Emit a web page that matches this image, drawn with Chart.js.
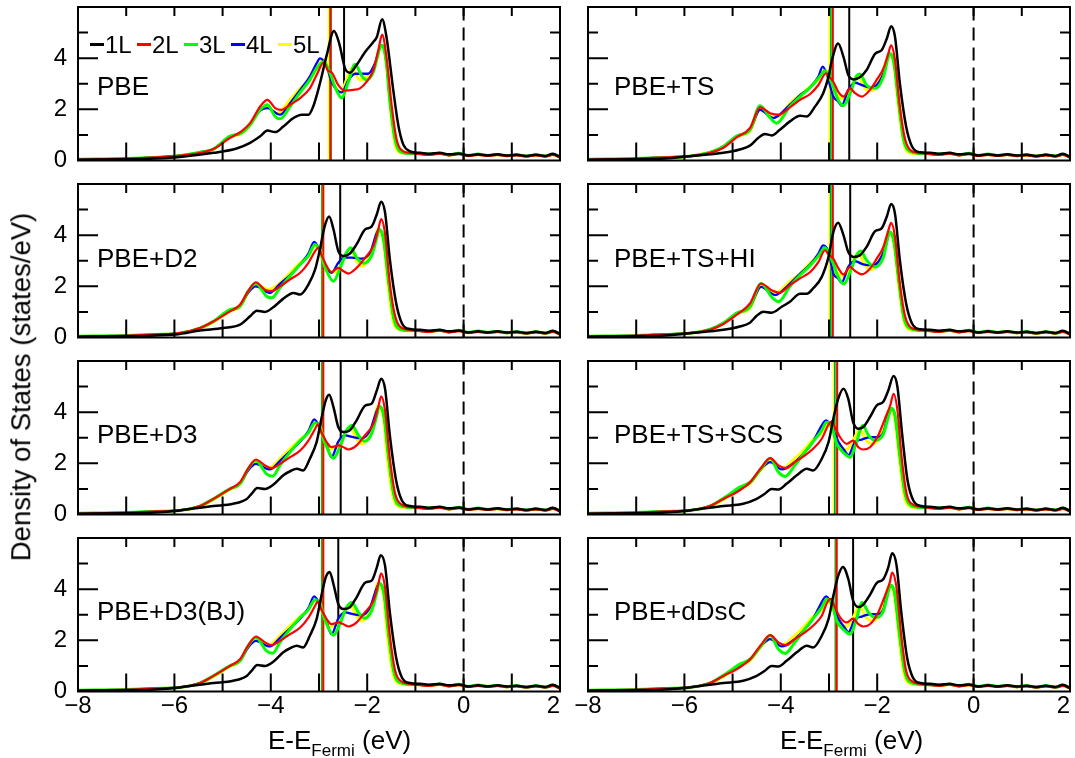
<!DOCTYPE html>
<html>
<head>
<meta charset="utf-8">
<script src="https://cdn.jsdelivr.net/npm/chart.js@4.4.0/dist/chart.umd.min.js"></script>
<style>
  html, body { margin: 0; padding: 0; background: #fff; }
  body { width: 1075px; height: 758px; position: relative; overflow: hidden;
         font-family: "Liberation Sans", Arial, Helvetica, sans-serif; color: #000; }
  canvas { position: absolute; left: 0; top: 0; }
  .txt { position: absolute; white-space: nowrap; line-height: 1; }
  .panel-name { font-size: 26px; }
  .legend-dash { position: absolute; width: 14px; height: 3px; }
  .legend-text { font-size: 24px; }
  .axis-title { font-size: 26px; }
  .y-title { font-size: 27.5px; }
</style>
</head>
<body>
<script>
// ---- series definitions -------------------------------------------------
const LAYERS = ['1L', '2L', '3L', '4L', '5L'];
const LAYER_COLORS = ['#000000', '#ff0000', '#00ff00', '#0000ff', '#ffff00'];
const METHODS = ['PBE', 'PBE+TS', 'PBE+D2', 'PBE+TS+HI', 'PBE+D3', 'PBE+TS+SCS', 'PBE+D3(BJ)', 'PBE+dDsC'];
const X_LABEL_TICKS = [-8, -6, -4, -2, 0, 2];
const Y_LABEL_TICKS = [0, 2, 4];

// low-energy tails (E, DOS), shared by every functional
const HEAD_1L = [[-8, 0.03], [-7, 0.05], [-6.4, 0.08]];
const HEAD_2L = [[-8, 0.04], [-7, 0.07], [-6.4, 0.12]];
const HEAD_3L = [[-8, 0.05], [-7, 0.08], [-6.4, 0.12]];
const HEAD_4L = [[-8, 0.04], [-7, 0.07], [-6.4, 0.12]];
const HEAD_5L = [[-8, 0.04], [-7, 0.06], [-6.4, 0.11]];

// conduction-side tails above -1 eV
const TAIL_1L = [[-0.9, 0.3], [-0.7, 0.26], [-0.5, 0.3], [-0.3, 0.24], [-0.1, 0.27], [0.1, 0.2], [0.3, 0.24], [0.5, 0.2], [0.7, 0.24], [0.9, 0.2], [1.1, 0.22], [1.3, 0.18], [1.5, 0.22], [1.7, 0.18], [1.85, 0.26], [2, 0.14]];
const TAIL_2L = [[-0.9, 0.25], [-0.7, 0.22], [-0.5, 0.27], [-0.3, 0.2], [-0.1, 0.25], [0.1, 0.18], [0.3, 0.22], [0.5, 0.18], [0.7, 0.22], [0.9, 0.17], [1.1, 0.2], [1.3, 0.16], [1.5, 0.2], [1.7, 0.16], [1.85, 0.22], [2, 0.12]];
const TAIL_3L = [[-0.9, 0.27], [-0.7, 0.25], [-0.5, 0.28], [-0.3, 0.22], [-0.1, 0.28], [0.1, 0.2], [0.3, 0.25], [0.5, 0.2], [0.7, 0.23], [0.9, 0.19], [1.1, 0.22], [1.3, 0.17], [1.5, 0.22], [1.7, 0.17], [1.85, 0.24], [2, 0.13]];
const TAIL_4L = [[-0.9, 0.26], [-0.7, 0.24], [-0.5, 0.29], [-0.3, 0.21], [-0.1, 0.27], [0.1, 0.19], [0.3, 0.25], [0.5, 0.19], [0.7, 0.24], [0.9, 0.18], [1.1, 0.23], [1.3, 0.16], [1.5, 0.23], [1.7, 0.16], [1.85, 0.24], [2, 0.13]];
const TAIL_5L = [[-0.9, 0.26], [-0.7, 0.23], [-0.5, 0.27], [-0.3, 0.21], [-0.1, 0.26], [0.1, 0.19], [0.3, 0.23], [0.5, 0.2], [0.7, 0.22], [0.9, 0.18], [1.1, 0.21], [1.3, 0.17], [1.5, 0.21], [1.7, 0.17], [1.85, 0.23], [2, 0.12]];

// ---- PBE ----
const PBE_1L = [[-5.89,0.14],[-5.19,0.3],[-4.71,0.47],[-4.43,0.69],[-4.22,0.95],[-4.07,1.17],[-3.91,1.11],[-3.74,1.33],[-3.53,1.66],[-3.36,1.79],[-3.22,1.79],[-3.12,2.11],[-2.98,3.02],[-2.84,4.12],[-2.69,5.06],[-2.58,4.57],[-2.46,3.6],[-2.36,3.43],[-2.22,3.73],[-2.04,4.25],[-1.87,4.64],[-1.8,4.83],[-1.69,5.52],[-1.6,4.83],[-1.46,2.76],[-1.35,1.33],[-1.25,0.62],[-1.11,0.36]];
const PBE_2L = [[-5.89,0.19],[-5.47,0.3],[-5.19,0.45],[-4.85,0.88],[-4.61,1.14],[-4.43,1.46],[-4.22,2.11],[-4.07,2.37],[-3.91,2.05],[-3.78,1.98],[-3.6,2.18],[-3.39,2.44],[-3.19,2.82],[-3.05,3.34],[-2.9,3.83],[-2.81,3.5],[-2.74,3.45],[-2.6,2.95],[-2.46,2.73],[-2.29,2.76],[-2.15,2.82],[-2.01,3.08],[-1.87,3.54],[-1.77,4.31],[-1.69,4.92],[-1.6,4.05],[-1.49,2.11],[-1.39,0.82],[-1.25,0.36],[-1.11,0.3]];
const PBE_3L = [[-5.89,0.19],[-5.47,0.32],[-5.19,0.45],[-4.85,0.95],[-4.61,1.08],[-4.43,1.4],[-4.22,1.98],[-4.07,2.18],[-3.91,1.72],[-3.81,1.63],[-3.6,2.11],[-3.39,2.66],[-3.19,3.15],[-3.05,3.6],[-2.9,3.86],[-2.77,3.41],[-2.67,2.89],[-2.53,2.44],[-2.39,3.08],[-2.25,3.76],[-2.11,3.3],[-2.01,3.15],[-1.87,3.47],[-1.73,4.44],[-1.69,4.5],[-1.6,3.8],[-1.53,2.37],[-1.42,0.82],[-1.28,0.32],[-1.11,0.28]];
const PBE_4L = [[-5.89,0.19],[-5.47,0.32],[-5.19,0.45],[-4.85,0.92],[-4.61,1.08],[-4.43,1.42],[-4.22,1.95],[-4.07,2.05],[-3.81,1.79],[-3.6,2.24],[-3.39,2.76],[-3.19,3.28],[-3.05,3.8],[-2.98,3.99],[-2.84,3.67],[-2.74,3.08],[-2.63,2.76],[-2.53,2.66],[-2.39,3.15],[-2.25,3.39],[-2.11,3.39],[-1.98,3.39],[-1.84,3.8],[-1.73,4.44],[-1.69,4.5],[-1.6,3.8],[-1.53,2.37],[-1.42,0.82],[-1.28,0.32],[-1.11,0.28]];
const PBE_5L = [[-5.89,0.19],[-5.47,0.3],[-5.19,0.43],[-4.85,0.92],[-4.61,1.05],[-4.43,1.38],[-4.22,2.0],[-4.07,2.11],[-3.88,1.83],[-3.6,2.37],[-3.39,2.82],[-3.19,3.15],[-3.05,3.6],[-2.9,3.95],[-2.77,3.28],[-2.67,2.89],[-2.56,2.63],[-2.43,3.15],[-2.32,3.6],[-2.15,3.15],[-2.01,3.28],[-1.84,3.73],[-1.73,4.44],[-1.69,4.5],[-1.6,3.67],[-1.53,2.2],[-1.43,0.7],[-1.3,0.3],[-1.11,0.26]];

// ---- PBE+TS ----
const TS_1L = [[-5.89,0.17],[-5.19,0.3],[-4.85,0.43],[-4.64,0.58],[-4.47,0.88],[-4.33,1.04],[-4.19,0.98],[-4.02,1.2],[-3.81,1.53],[-3.6,1.75],[-3.46,1.72],[-3.29,2.11],[-3.12,2.63],[-3.01,3.28],[-2.94,3.92],[-2.81,4.57],[-2.7,4.05],[-2.6,3.34],[-2.49,3.17],[-2.36,3.25],[-2.22,3.54],[-2.04,4.18],[-1.91,4.31],[-1.8,4.77],[-1.71,5.25],[-1.63,4.83],[-1.53,3.02],[-1.4,1.33],[-1.28,0.56],[-1.11,0.32]];
const TS_2L = [[-5.89,0.17],[-5.47,0.3],[-5.19,0.5],[-4.92,0.9],[-4.64,1.27],[-4.43,2.08],[-4.22,1.85],[-4.05,1.79],[-3.81,2.08],[-3.6,2.37],[-3.39,2.6],[-3.22,2.95],[-3.06,3.41],[-3.01,3.3],[-2.91,3.08],[-2.81,2.69],[-2.7,2.5],[-2.56,2.82],[-2.46,2.63],[-2.32,2.5],[-2.15,2.76],[-2.01,3.15],[-1.87,3.6],[-1.77,4.18],[-1.71,4.5],[-1.63,3.92],[-1.53,2.11],[-1.42,0.82],[-1.28,0.36],[-1.11,0.3]];
const TS_3L = [[-5.89,0.17],[-5.47,0.32],[-5.19,0.55],[-4.92,0.95],[-4.64,1.2],[-4.43,2.14],[-4.22,1.66],[-4.09,1.46],[-3.81,2.11],[-3.6,2.5],[-3.39,2.86],[-3.22,3.21],[-3.08,3.51],[-3.01,3.28],[-2.91,2.89],[-2.81,2.37],[-2.7,2.14],[-2.56,2.63],[-2.43,3.3],[-2.36,3.38],[-2.22,2.95],[-2.04,2.82],[-1.87,3.28],[-1.77,4.05],[-1.73,4.18],[-1.65,3.8],[-1.56,2.37],[-1.45,0.82],[-1.32,0.36],[-1.11,0.28]];
const TS_4L = [[-5.89,0.17],[-5.47,0.32],[-5.19,0.55],[-4.92,0.95],[-4.64,1.2],[-4.43,1.98],[-4.16,1.66],[-3.81,2.18],[-3.6,2.56],[-3.39,2.86],[-3.22,3.28],[-3.13,3.67],[-3.04,3.34],[-2.91,2.5],[-2.81,2.31],[-2.74,2.14],[-2.6,2.76],[-2.46,3.04],[-2.32,2.95],[-2.15,2.86],[-2.01,2.95],[-1.87,3.41],[-1.77,4.05],[-1.73,4.16],[-1.65,3.8],[-1.56,2.37],[-1.45,0.82],[-1.32,0.36],[-1.11,0.28]];
const TS_5L = [[-5.89,0.17],[-5.47,0.32],[-5.19,0.53],[-4.92,0.92],[-4.64,1.15],[-4.43,1.98],[-4.19,1.75],[-4.05,1.72],[-3.81,2.24],[-3.6,2.56],[-3.39,2.89],[-3.22,3.18],[-3.08,3.54],[-3.01,3.34],[-2.91,2.56],[-2.81,2.53],[-2.7,2.4],[-2.56,2.82],[-2.39,3.25],[-2.25,2.82],[-2.11,2.73],[-1.98,3.02],[-1.87,3.54],[-1.77,4.12],[-1.73,4.18],[-1.65,3.67],[-1.56,2.11],[-1.45,0.69],[-1.32,0.3],[-1.11,0.26]];

// ---- PBE+D2 ----
const D2_1L = [[-5.89,0.14],[-5.47,0.27],[-4.99,0.37],[-4.64,0.5],[-4.43,0.83],[-4.29,1.05],[-4.12,1.0],[-3.95,1.18],[-3.74,1.52],[-3.53,1.74],[-3.39,1.68],[-3.22,2.07],[-3.08,2.66],[-2.98,3.45],[-2.88,4.36],[-2.79,4.73],[-2.7,4.23],[-2.6,3.38],[-2.49,3.19],[-2.36,3.28],[-2.22,3.64],[-2.04,4.23],[-1.91,4.33],[-1.8,4.82],[-1.71,5.31],[-1.63,4.89],[-1.53,3.05],[-1.4,1.35],[-1.28,0.56],[-1.11,0.33]];
const D2_2L = [[-5.89,0.17],[-5.47,0.37],[-5.19,0.63],[-4.85,1.02],[-4.64,1.28],[-4.47,1.81],[-4.31,2.16],[-4.12,1.87],[-3.98,1.81],[-3.81,2.0],[-3.6,2.27],[-3.39,2.53],[-3.22,2.92],[-3.08,3.38],[-3.01,3.51],[-2.95,3.25],[-2.84,2.79],[-2.74,2.56],[-2.6,2.72],[-2.49,2.59],[-2.39,2.5],[-2.22,2.72],[-2.04,3.12],[-1.87,3.59],[-1.77,4.23],[-1.71,4.63],[-1.63,4.06],[-1.53,2.1],[-1.42,0.83],[-1.28,0.37],[-1.11,0.3]];
const D2_3L = [[-5.89,0.17],[-5.47,0.37],[-5.19,0.63],[-4.85,1.09],[-4.64,1.22],[-4.47,1.81],[-4.31,2.12],[-4.09,1.61],[-3.98,1.55],[-3.81,1.94],[-3.6,2.4],[-3.39,2.86],[-3.22,3.19],[-3.08,3.64],[-2.98,3.38],[-2.84,2.59],[-2.7,2.2],[-2.56,2.72],[-2.43,3.32],[-2.34,3.51],[-2.22,3.12],[-2.08,2.9],[-1.91,3.19],[-1.8,3.9],[-1.75,4.23],[-1.66,3.84],[-1.56,2.27],[-1.45,0.77],[-1.32,0.33],[-1.11,0.28]];
const D2_4L = [[-5.89,0.17],[-5.47,0.37],[-5.19,0.63],[-4.85,1.05],[-4.64,1.22],[-4.47,1.75],[-4.31,2.0],[-4.02,1.74],[-3.81,2.1],[-3.6,2.44],[-3.39,2.86],[-3.22,3.28],[-3.1,3.74],[-2.98,3.38],[-2.84,2.72],[-2.74,2.53],[-2.6,2.92],[-2.49,3.12],[-2.32,3.12],[-2.11,3.08],[-1.94,3.32],[-1.8,4.1],[-1.75,4.23],[-1.66,3.84],[-1.56,2.27],[-1.45,0.77],[-1.32,0.33],[-1.11,0.28]];
const D2_5L = [[-5.89,0.17],[-5.47,0.35],[-5.19,0.6],[-4.85,1.02],[-4.64,1.2],[-4.47,1.75],[-4.31,2.07],[-4.05,1.87],[-3.81,2.13],[-3.6,2.53],[-3.39,2.92],[-3.22,3.21],[-3.08,3.58],[-2.98,3.42],[-2.88,2.8],[-2.77,2.53],[-2.63,2.59],[-2.49,3.05],[-2.36,3.47],[-2.22,2.99],[-2.11,2.79],[-1.98,3.05],[-1.87,3.58],[-1.78,4.23],[-1.66,3.71],[-1.57,2.1],[-1.47,0.7],[-1.32,0.3],[-1.11,0.26]];

// ---- PBE+TS+HI ----
const TSHI_1L = [[-5.89,0.17],[-5.19,0.3],[-4.85,0.43],[-4.64,0.58],[-4.5,0.85],[-4.36,1.01],[-4.19,0.97],[-3.98,1.2],[-3.81,1.4],[-3.6,1.71],[-3.46,1.71],[-3.33,1.92],[-3.15,2.37],[-3.01,3.15],[-2.91,4.12],[-2.81,4.49],[-2.7,4.0],[-2.6,3.34],[-2.49,3.15],[-2.36,3.21],[-2.22,3.54],[-2.04,4.16],[-1.91,4.26],[-1.8,4.73],[-1.71,5.22],[-1.63,4.83],[-1.53,3.02],[-1.4,1.33],[-1.28,0.56],[-1.11,0.32]];
const TSHI_2L = [[-5.89,0.17],[-5.47,0.3],[-5.19,0.53],[-4.92,0.88],[-4.64,1.33],[-4.41,2.11],[-4.19,1.85],[-4.02,1.75],[-3.81,2.05],[-3.6,2.31],[-3.39,2.56],[-3.22,2.95],[-3.08,3.41],[-3.01,3.25],[-2.91,3.08],[-2.81,2.72],[-2.7,2.47],[-2.56,2.76],[-2.46,2.6],[-2.32,2.47],[-2.15,2.69],[-2.01,3.08],[-1.87,3.54],[-1.77,4.18],[-1.71,4.48],[-1.63,3.92],[-1.53,2.11],[-1.42,0.82],[-1.28,0.36],[-1.11,0.3]];
const TSHI_3L = [[-5.89,0.17],[-5.47,0.32],[-5.19,0.57],[-4.92,0.95],[-4.64,1.2],[-4.41,2.11],[-4.19,1.59],[-4.05,1.4],[-3.81,2.0],[-3.6,2.44],[-3.39,2.82],[-3.22,3.18],[-3.08,3.51],[-3.01,3.28],[-2.91,2.89],[-2.81,2.37],[-2.69,2.09],[-2.56,2.57],[-2.43,3.21],[-2.34,3.38],[-2.22,3.02],[-2.05,2.76],[-1.87,3.15],[-1.77,4.0],[-1.73,4.12],[-1.65,3.73],[-1.56,2.37],[-1.45,0.82],[-1.32,0.36],[-1.11,0.28]];
const TSHI_4L = [[-5.89,0.17],[-5.47,0.32],[-5.19,0.57],[-4.92,0.95],[-4.64,1.2],[-4.41,1.98],[-4.12,1.66],[-3.81,2.11],[-3.6,2.5],[-3.39,2.86],[-3.22,3.28],[-3.12,3.6],[-3.01,3.34],[-2.91,2.5],[-2.81,2.31],[-2.74,2.14],[-2.6,2.76],[-2.46,2.98],[-2.29,2.86],[-2.11,2.82],[-1.98,2.95],[-1.84,3.47],[-1.73,4.12],[-1.65,3.73],[-1.56,2.37],[-1.45,0.82],[-1.32,0.36],[-1.11,0.28]];
const TSHI_5L = [[-5.89,0.17],[-5.47,0.32],[-5.19,0.55],[-4.92,0.92],[-4.64,1.15],[-4.41,1.98],[-4.12,1.72],[-3.81,2.2],[-3.6,2.5],[-3.39,2.92],[-3.22,3.21],[-3.08,3.51],[-3.01,3.34],[-2.91,2.56],[-2.81,2.5],[-2.7,2.4],[-2.56,2.78],[-2.39,3.28],[-2.25,2.82],[-2.11,2.66],[-1.98,2.98],[-1.87,3.52],[-1.75,4.08],[-1.65,3.6],[-1.56,2.11],[-1.45,0.69],[-1.32,0.3],[-1.11,0.26]];

// ---- PBE+D3 ----
const D3_1L = [[-5.89,0.16],[-5.19,0.33],[-4.78,0.42],[-4.5,0.61],[-4.4,0.81],[-4.28,1.04],[-4.12,1.0],[-3.95,1.16],[-3.74,1.53],[-3.57,1.72],[-3.46,1.79],[-3.33,1.72],[-3.19,2.18],[-3.05,2.83],[-2.95,3.74],[-2.86,4.46],[-2.79,4.68],[-2.7,4.2],[-2.6,3.42],[-2.49,3.22],[-2.36,3.29],[-2.22,3.68],[-2.04,4.26],[-1.91,4.33],[-1.8,4.85],[-1.71,5.31],[-1.63,4.92],[-1.53,3.09],[-1.4,1.33],[-1.28,0.55],[-1.11,0.33]];
const D3_2L = [[-5.89,0.16],[-5.47,0.33],[-5.19,0.61],[-4.85,1.0],[-4.64,1.26],[-4.47,1.79],[-4.31,2.15],[-4.12,1.92],[-3.98,1.81],[-3.81,1.98],[-3.6,2.24],[-3.39,2.5],[-3.22,2.89],[-3.08,3.35],[-3.03,3.51],[-2.95,3.21],[-2.84,2.83],[-2.74,2.63],[-2.6,2.7],[-2.49,2.63],[-2.39,2.54],[-2.22,2.7],[-2.05,3.09],[-1.87,3.55],[-1.77,4.2],[-1.71,4.62],[-1.63,4.07],[-1.53,2.18],[-1.42,0.81],[-1.28,0.38],[-1.11,0.3]];
const D3_3L = [[-5.89,0.16],[-5.47,0.33],[-5.19,0.61],[-4.85,1.0],[-4.64,1.2],[-4.47,1.79],[-4.31,2.11],[-4.09,1.59],[-3.96,1.5],[-3.81,1.92],[-3.6,2.44],[-3.39,2.89],[-3.22,3.2],[-3.08,3.59],[-2.98,3.38],[-2.84,2.63],[-2.7,2.2],[-2.56,2.67],[-2.43,3.28],[-2.32,3.48],[-2.18,3.09],[-2.05,2.86],[-1.91,3.15],[-1.8,3.87],[-1.75,4.24],[-1.65,3.81],[-1.56,2.31],[-1.45,0.81],[-1.32,0.35],[-1.11,0.28]];
const D3_4L = [[-5.89,0.16],[-5.47,0.33],[-5.19,0.61],[-4.85,1.0],[-4.64,1.2],[-4.47,1.72],[-4.31,1.98],[-4.02,1.76],[-3.81,2.1],[-3.6,2.47],[-3.39,2.85],[-3.22,3.26],[-3.1,3.72],[-2.98,3.38],[-2.84,2.7],[-2.74,2.24],[-2.6,2.85],[-2.46,3.09],[-2.29,3.02],[-2.11,2.98],[-1.94,3.29],[-1.8,4.07],[-1.75,4.24],[-1.65,3.81],[-1.56,2.31],[-1.45,0.81],[-1.32,0.35],[-1.11,0.28]];
const D3_5L = [[-5.89,0.16],[-5.47,0.32],[-5.19,0.58],[-4.85,0.98],[-4.64,1.18],[-4.47,1.75],[-4.31,2.05],[-4.05,1.81],[-3.81,2.18],[-3.6,2.57],[-3.39,2.93],[-3.22,3.2],[-3.08,3.59],[-2.98,3.42],[-2.88,2.83],[-2.77,2.57],[-2.63,2.63],[-2.5,3.03],[-2.36,3.38],[-2.22,2.96],[-2.11,2.76],[-1.98,3.03],[-1.87,3.59],[-1.78,4.24],[-1.66,3.74],[-1.58,2.18],[-1.47,0.74],[-1.32,0.3],[-1.11,0.26]];

// ---- PBE+TS+SCS ----
const SCS_1L = [[-5.89,0.16],[-5.19,0.33],[-4.78,0.42],[-4.5,0.61],[-4.33,0.81],[-4.19,1.0],[-4.05,0.98],[-3.88,1.2],[-3.67,1.53],[-3.46,1.79],[-3.33,1.72],[-3.15,2.18],[-3.01,2.83],[-2.91,3.74],[-2.81,4.52],[-2.7,4.92],[-2.6,4.52],[-2.5,3.61],[-2.39,3.35],[-2.29,3.42],[-2.15,3.81],[-2.01,4.26],[-1.87,4.42],[-1.77,4.85],[-1.66,5.41],[-1.58,4.98],[-1.48,3.09],[-1.37,1.33],[-1.25,0.55],[-1.08,0.33]];
const SCS_2L = [[-5.89,0.16],[-5.47,0.33],[-5.19,0.61],[-4.85,0.94],[-4.64,1.26],[-4.4,1.85],[-4.22,2.2],[-4.05,1.92],[-3.89,1.81],[-3.71,2.05],[-3.5,2.31],[-3.33,2.57],[-3.15,2.96],[-3.01,3.51],[-2.94,3.64],[-2.88,3.42],[-2.77,3.02],[-2.63,2.76],[-2.5,2.89],[-2.39,2.63],[-2.29,2.54],[-2.15,2.63],[-1.98,3.09],[-1.84,3.74],[-1.73,4.26],[-1.66,4.72],[-1.58,4.07],[-1.49,2.18],[-1.39,0.81],[-1.25,0.38],[-1.08,0.3]];
const SCS_3L = [[-5.89,0.16],[-5.47,0.33],[-5.19,0.63],[-4.85,1.07],[-4.64,1.26],[-4.4,1.81],[-4.22,2.2],[-4.05,1.66],[-3.91,1.49],[-3.71,1.92],[-3.5,2.44],[-3.33,2.85],[-3.15,3.29],[-3.05,3.61],[-2.94,3.42],[-2.84,2.76],[-2.67,2.37],[-2.56,2.24],[-2.43,2.83],[-2.3,3.49],[-2.18,3.09],[-2.05,2.89],[-1.87,3.15],[-1.77,3.81],[-1.7,4.15],[-1.63,3.87],[-1.53,2.31],[-1.42,0.81],[-1.3,0.35],[-1.08,0.28]];
const SCS_4L = [[-5.89,0.16],[-5.47,0.33],[-5.19,0.61],[-4.85,1.03],[-4.64,1.24],[-4.4,1.8],[-4.22,2.05],[-3.98,1.76],[-3.71,2.05],[-3.5,2.44],[-3.33,2.85],[-3.19,3.35],[-3.06,3.68],[-2.94,3.42],[-2.8,2.83],[-2.66,2.46],[-2.6,2.31],[-2.46,2.83],[-2.32,2.93],[-2.15,3.02],[-2.01,3.02],[-1.87,3.22],[-1.77,3.94],[-1.7,4.12],[-1.63,3.87],[-1.53,2.31],[-1.42,0.81],[-1.3,0.35],[-1.08,0.28]];
const SCS_5L = [[-5.89,0.16],[-5.47,0.32],[-5.19,0.58],[-4.85,1.0],[-4.64,1.2],[-4.4,1.78],[-4.22,2.05],[-3.98,1.81],[-3.71,2.18],[-3.5,2.57],[-3.33,2.93],[-3.15,3.2],[-3.05,3.49],[-2.94,3.38],[-2.84,2.87],[-2.74,2.63],[-2.63,2.54],[-2.5,2.89],[-2.36,3.32],[-2.22,2.88],[-2.11,2.76],[-1.94,3.03],[-1.84,3.61],[-1.73,4.18],[-1.63,3.68],[-1.54,2.18],[-1.44,0.74],[-1.3,0.3],[-1.08,0.26]];

// ---- PBE+D3(BJ) ----
const D3BJ_1L = [[-5.89,0.16],[-5.19,0.33],[-4.78,0.42],[-4.5,0.61],[-4.4,0.81],[-4.28,1.04],[-4.12,1.0],[-3.95,1.16],[-3.74,1.53],[-3.57,1.72],[-3.46,1.79],[-3.33,1.72],[-3.19,2.18],[-3.05,2.83],[-2.95,3.74],[-2.86,4.46],[-2.78,4.67],[-2.7,4.2],[-2.6,3.42],[-2.49,3.22],[-2.36,3.29],[-2.22,3.68],[-2.04,4.26],[-1.91,4.33],[-1.8,4.85],[-1.72,5.33],[-1.63,4.92],[-1.53,3.09],[-1.4,1.33],[-1.28,0.55],[-1.11,0.33]];
const D3BJ_2L = [[-5.89,0.16],[-5.47,0.33],[-5.19,0.61],[-4.85,1.0],[-4.64,1.26],[-4.47,1.79],[-4.31,2.15],[-4.12,1.92],[-3.98,1.81],[-3.81,1.98],[-3.6,2.24],[-3.39,2.5],[-3.22,2.89],[-3.08,3.35],[-3.03,3.51],[-2.95,3.21],[-2.84,2.83],[-2.74,2.63],[-2.6,2.7],[-2.49,2.63],[-2.39,2.54],[-2.22,2.7],[-2.05,3.09],[-1.87,3.55],[-1.77,4.2],[-1.71,4.62],[-1.63,4.07],[-1.53,2.18],[-1.42,0.81],[-1.28,0.38],[-1.11,0.3]];
const D3BJ_3L = [[-5.89,0.16],[-5.47,0.33],[-5.19,0.61],[-4.85,1.0],[-4.64,1.2],[-4.47,1.79],[-4.31,2.11],[-4.09,1.59],[-3.96,1.5],[-3.81,1.92],[-3.6,2.44],[-3.39,2.89],[-3.22,3.2],[-3.08,3.59],[-2.98,3.38],[-2.84,2.63],[-2.7,2.2],[-2.56,2.67],[-2.43,3.28],[-2.32,3.48],[-2.18,3.09],[-2.05,2.86],[-1.91,3.15],[-1.8,3.87],[-1.75,4.24],[-1.65,3.81],[-1.56,2.31],[-1.45,0.81],[-1.32,0.35],[-1.11,0.28]];
const D3BJ_4L = [[-5.89,0.16],[-5.47,0.33],[-5.19,0.61],[-4.85,1.0],[-4.64,1.2],[-4.47,1.72],[-4.31,1.98],[-4.02,1.76],[-3.81,2.1],[-3.6,2.47],[-3.39,2.85],[-3.22,3.26],[-3.1,3.72],[-2.98,3.38],[-2.84,2.7],[-2.74,2.24],[-2.6,2.85],[-2.46,3.09],[-2.29,3.02],[-2.11,2.98],[-1.94,3.29],[-1.8,4.07],[-1.75,4.24],[-1.65,3.81],[-1.56,2.31],[-1.45,0.81],[-1.32,0.35],[-1.11,0.28]];
const D3BJ_5L = [[-5.89,0.16],[-5.47,0.32],[-5.19,0.58],[-4.85,0.98],[-4.64,1.18],[-4.47,1.75],[-4.31,2.05],[-4.05,1.81],[-3.81,2.18],[-3.6,2.57],[-3.39,2.93],[-3.22,3.2],[-3.08,3.59],[-2.98,3.42],[-2.88,2.83],[-2.77,2.57],[-2.63,2.63],[-2.5,3.03],[-2.36,3.38],[-2.22,2.96],[-2.11,2.76],[-1.98,3.03],[-1.87,3.59],[-1.78,4.24],[-1.66,3.74],[-1.58,2.18],[-1.47,0.74],[-1.32,0.3],[-1.11,0.26]];

// ---- PBE+dDsC ----
const DDSC_1L = [[-5.89,0.16],[-5.19,0.33],[-4.78,0.42],[-4.5,0.61],[-4.33,0.81],[-4.19,1.0],[-4.05,0.98],[-3.88,1.2],[-3.67,1.53],[-3.46,1.79],[-3.33,1.72],[-3.15,2.18],[-3.01,2.83],[-2.91,3.74],[-2.81,4.52],[-2.71,4.87],[-2.6,4.4],[-2.5,3.55],[-2.39,3.3],[-2.29,3.4],[-2.15,3.78],[-2.01,4.24],[-1.87,4.4],[-1.77,4.85],[-1.69,5.4],[-1.6,4.95],[-1.5,3.09],[-1.38,1.33],[-1.26,0.55],[-1.1,0.33]];
const DDSC_2L = [[-5.89,0.16],[-5.47,0.33],[-5.19,0.61],[-4.85,0.94],[-4.64,1.26],[-4.4,1.85],[-4.22,2.2],[-4.05,1.92],[-3.89,1.81],[-3.71,2.05],[-3.5,2.31],[-3.33,2.57],[-3.15,2.96],[-3.03,3.51],[-2.96,3.62],[-2.88,3.3],[-2.77,2.9],[-2.63,2.7],[-2.5,2.85],[-2.39,2.63],[-2.29,2.54],[-2.15,2.63],[-1.98,3.09],[-1.84,3.74],[-1.74,4.26],[-1.69,4.65],[-1.6,4.07],[-1.5,2.18],[-1.4,0.81],[-1.26,0.38],[-1.1,0.3]];
const DDSC_3L = [[-5.89,0.16],[-5.47,0.33],[-5.19,0.63],[-4.85,1.07],[-4.64,1.26],[-4.4,1.81],[-4.22,2.2],[-4.05,1.66],[-3.91,1.49],[-3.71,1.92],[-3.5,2.44],[-3.33,2.85],[-3.15,3.29],[-3.05,3.61],[-2.94,3.42],[-2.84,2.76],[-2.67,2.37],[-2.56,2.24],[-2.43,2.83],[-2.32,3.49],[-2.18,3.09],[-2.05,2.89],[-1.87,3.15],[-1.78,3.81],[-1.72,4.15],[-1.64,3.87],[-1.54,2.31],[-1.43,0.81],[-1.3,0.35],[-1.1,0.28]];
const DDSC_4L = [[-5.89,0.16],[-5.47,0.33],[-5.19,0.61],[-4.85,1.03],[-4.64,1.24],[-4.4,1.8],[-4.22,2.05],[-3.98,1.76],[-3.71,2.05],[-3.5,2.44],[-3.33,2.85],[-3.19,3.35],[-3.06,3.72],[-2.94,3.42],[-2.8,2.83],[-2.66,2.46],[-2.6,2.31],[-2.46,2.83],[-2.32,2.93],[-2.15,3.02],[-2.01,3.02],[-1.87,3.22],[-1.78,3.94],[-1.72,4.12],[-1.64,3.87],[-1.54,2.31],[-1.43,0.81],[-1.3,0.35],[-1.1,0.28]];
const DDSC_5L = [[-5.89,0.16],[-5.47,0.32],[-5.19,0.58],[-4.85,1.0],[-4.64,1.2],[-4.4,1.78],[-4.22,2.05],[-3.98,1.81],[-3.71,2.18],[-3.5,2.57],[-3.33,2.93],[-3.15,3.2],[-3.05,3.49],[-2.94,3.38],[-2.84,2.87],[-2.74,2.63],[-2.63,2.54],[-2.5,2.89],[-2.37,3.32],[-2.22,2.88],[-2.11,2.76],[-1.94,3.03],[-1.84,3.61],[-1.74,4.18],[-1.64,3.68],[-1.55,2.18],[-1.45,0.74],[-1.3,0.3],[-1.1,0.26]];

// band-centre markers (eV) for 1L..5L in each functional
const CENTRE_PBE  = [-2.48, -2.76, -2.76, -2.76, -2.80];
const CENTRE_TS   = [-2.58, -2.92, -2.95, -2.955, -2.99];
const CENTRE_D2   = [-2.56, -2.91, -2.925, -2.93, -2.945];
const CENTRE_TSHI = [-2.56, -2.92, -2.95, -2.96, -2.99];
const CENTRE_D3   = [-2.55, -2.91, -2.93, -2.935, -2.945];
const CENTRE_SCS  = [-2.48, -2.83, -2.86, -2.87, -2.90];
const CENTRE_D3BJ = [-2.60, -2.91, -2.93, -2.935, -2.945];
const CENTRE_DDSC = [-2.50, -2.84, -2.85, -2.86, -2.87];

const HEADS = [HEAD_1L, HEAD_2L, HEAD_3L, HEAD_4L, HEAD_5L];
const TAILS = [TAIL_1L, TAIL_2L, TAIL_3L, TAIL_4L, TAIL_5L];
const CURVES = [
  [PBE_1L, PBE_2L, PBE_3L, PBE_4L, PBE_5L],
  [TS_1L, TS_2L, TS_3L, TS_4L, TS_5L],
  [D2_1L, D2_2L, D2_3L, D2_4L, D2_5L],
  [TSHI_1L, TSHI_2L, TSHI_3L, TSHI_4L, TSHI_5L],
  [D3_1L, D3_2L, D3_3L, D3_4L, D3_5L],
  [SCS_1L, SCS_2L, SCS_3L, SCS_4L, SCS_5L],
  [D3BJ_1L, D3BJ_2L, D3BJ_3L, D3BJ_4L, D3BJ_5L],
  [DDSC_1L, DDSC_2L, DDSC_3L, DDSC_4L, DDSC_5L]
];
const CENTRES = [CENTRE_PBE, CENTRE_TS, CENTRE_D2, CENTRE_TSHI, CENTRE_D3, CENTRE_SCS, CENTRE_D3BJ, CENTRE_DDSC];

// ---- layout & styling ---------------------------------------------------
const W = 1075, H = 758;
const COL_LEFT = [78, 588];
const PLOT_W = 482;
const ROW_TOP = [7, 184, 361, 538];
const PLOT_H = 153.5;
const NAME_CENTRE_Y = [86, 258, 434, 611];
const NAME_X = [97, 614];
const X_TITLE_LEFT = [268, 780];
const LAYER_WIDTHS = [2.5, 2.2, 3, 2.3, 3];

Chart.defaults.font.family = '"Liberation Sans", Arial, Helvetica, sans-serif';
Chart.defaults.color = '#000';

function fmtX(v) {
  if (v < 0) return '\u2212' + (-v);
  if (v === 2) return '2\u2007';          // last label sits slightly inside the frame edge
  return String(v);
}

// frame with inward ticks on all four sides
const framePlugin = {
  id: 'frame',
  afterDraw(chart) {
    const { ctx, chartArea: a, scales: { x, y } } = chart;
    ctx.save();
    ctx.strokeStyle = '#000';
    ctx.lineWidth = 2;
    ctx.beginPath();
    for (let v = -7; v <= 1; v++) {
      const px = x.getPixelForValue(v);
      ctx.moveTo(px, a.bottom); ctx.lineTo(px, a.bottom - 18);
      ctx.moveTo(px, a.top); ctx.lineTo(px, a.top + 9);
    }
    for (let v = 1; v <= 5; v++) {
      const py = y.getPixelForValue(v);
      const len = (v % 2 === 0) ? 20 : 10;
      ctx.moveTo(a.left, py); ctx.lineTo(a.left + len, py);
      ctx.moveTo(a.right, py); ctx.lineTo(a.right - 10, py);
    }
    ctx.stroke();
    ctx.strokeRect(a.left, a.top, a.right - a.left, a.bottom - a.top);
    ctx.restore();
  }
};

function toXY(list) { return list.map(([x, y]) => ({ x, y })); }

function buildPanel(i) {
  const col = i % 2, row = Math.floor(i / 2);
  const left = COL_LEFT[col], top = ROW_TOP[row];
  const right = left + PLOT_W, bottom = top + PLOT_H;
  const canvas = document.createElement('canvas');
  canvas.width = W; canvas.height = H;
  document.body.appendChild(canvas);

  const datasets = LAYERS.map((lay, k) => ({
    label: lay,
    data: toXY(HEADS[k].concat(CURVES[i][k], TAILS[k])),
    borderColor: LAYER_COLORS[k],
    borderWidth: LAYER_WIDTHS[k],
    pointRadius: 0,
    cubicInterpolationMode: 'monotone',
    fill: false
  }));
  LAYERS.forEach((lay, k) => {
    const e = CENTRES[i][k];
    datasets.push({
      label: lay + ' centre',
      data: [{ x: e, y: 0 }, { x: e, y: 6 }],
      borderColor: LAYER_COLORS[k], borderWidth: 2, pointRadius: 0, fill: false
    });
  });
  datasets.push({
    label: 'Fermi level',
    data: [{ x: 0, y: 0 }, { x: 0, y: 6 }],
    borderColor: '#000', borderWidth: 2, borderDash: [13, 7], pointRadius: 0, fill: false
  });

  new Chart(canvas, {
    type: 'line',
    data: { datasets },
    options: {
      responsive: false,
      animation: false,
      devicePixelRatio: 1,
      events: [],
      layout: { autoPadding: false, padding: { left: 0, top, right: W - right, bottom: 0 } },
      plugins: { legend: { display: false }, tooltip: { enabled: false } },
      scales: {
        x: {
          type: 'linear', min: -8, max: 2,
          grid: { display: false, drawTicks: false },
          border: { display: false },
          afterFit: s => { s.height = H - bottom; s.paddingLeft = 0; s.paddingRight = 0; s.paddingTop = 0; s.paddingBottom = 0; },
          ticks: {
            display: row === 3,
            stepSize: 1, autoSkip: false, maxRotation: 0, padding: 0,
            font: { size: 24 },
            callback: v => (X_LABEL_TICKS.includes(v) ? fmtX(v) : '')
          }
        },
        y: {
          type: 'linear', min: 0, max: 6,
          grid: { display: false, drawTicks: false },
          border: { display: false },
          afterFit: s => { s.width = left; s.paddingTop = 0; s.paddingBottom = 0; s.paddingLeft = 0; s.paddingRight = 0; },
          ticks: {
            display: col === 0,
            stepSize: 1, autoSkip: false, padding: 11,
            font: { size: 24 },
            callback: v => (Y_LABEL_TICKS.includes(v) ? String(v) : '')
          }
        }
      }
    },
    plugins: [framePlugin]
  });

  const name = document.createElement('div');
  name.className = 'txt panel-name';
  name.textContent = METHODS[i];
  name.style.left = NAME_X[col] + 'px';
  name.style.top = (NAME_CENTRE_Y[row] - 0.49 * 26) + 'px';
  document.body.appendChild(name);
}

METHODS.forEach((m, i) => buildPanel(i));

// legend in the first panel
LAYERS.forEach((lay, k) => {
  const x0 = 90 + 47 * k;
  const dash = document.createElement('div');
  dash.className = 'legend-dash';
  dash.style.left = x0 + 'px';
  dash.style.top = '43px';
  dash.style.background = LAYER_COLORS[k];
  document.body.appendChild(dash);
  const t = document.createElement('div');
  t.className = 'txt legend-text';
  t.textContent = lay;
  t.style.left = (x0 + 15) + 'px';
  t.style.top = (45 - 0.49 * 24) + 'px';
  document.body.appendChild(t);
});

// axis titles
const yTitle = document.createElement('div');
yTitle.className = 'txt y-title';
yTitle.textContent = 'Density of States (states/eV)';
yTitle.style.left = '21px';
yTitle.style.top = '387px';
yTitle.style.transform = 'translate(-50%, -50%) rotate(-90deg)';
document.body.appendChild(yTitle);

X_TITLE_LEFT.forEach(l => {
  const xt = document.createElement('div');
  xt.className = 'txt axis-title';
  xt.innerHTML = 'E-E<span style="font-size:17px;position:relative;top:7px">Fermi</span> (eV)';
  xt.style.left = l + 'px';
  xt.style.top = (740 - 0.49 * 26) + 'px';
  document.body.appendChild(xt);
});
</script>
</body>
</html>
